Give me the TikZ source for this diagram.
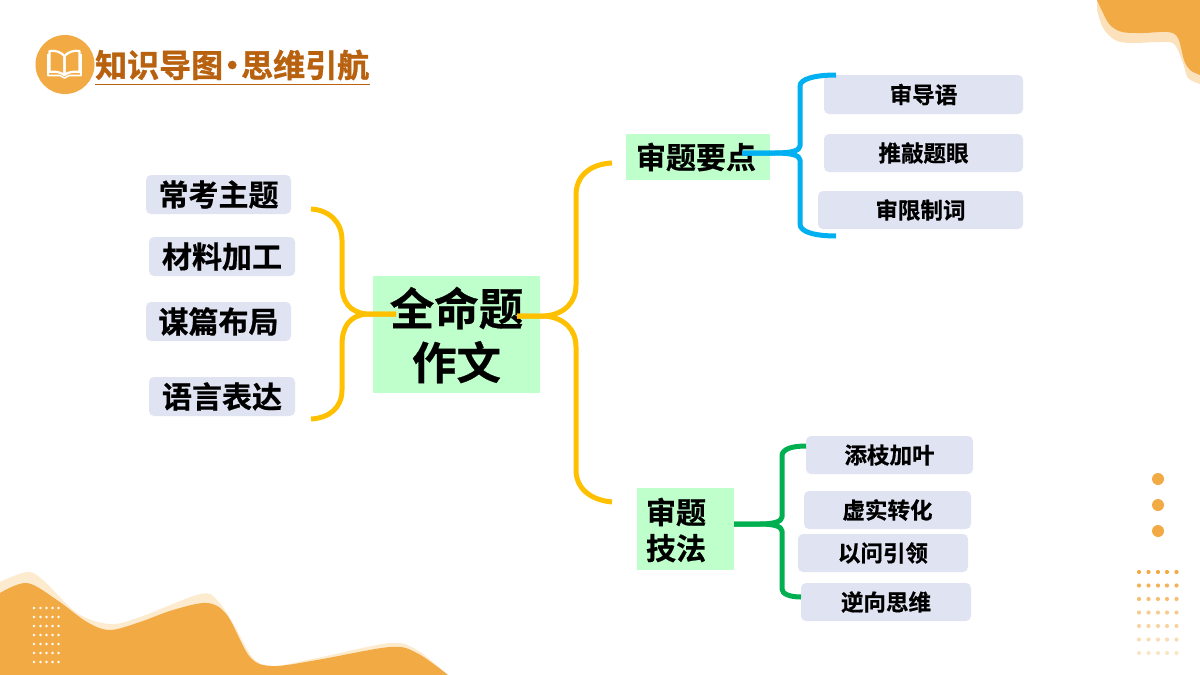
\documentclass[tikz,border=0pt]{standalone}
\usepackage{fontspec}
\setmainfont{Noto Sans CJK SC}[BoldFont={Noto Sans CJK SC Bold}]
\newfontfamily\cjkb[FakeBold=0.6]{Noto Sans CJK SC Bold}
\newfontfamily\cjkt[FakeBold=1.2]{Noto Sans CJK SC Bold}
\definecolor{wave}{HTML}{F2AA45}
\definecolor{wavelt}{HTML}{FDEBD0}
\definecolor{wavemid}{HTML}{FCE2BC}
\definecolor{boxlav}{HTML}{E0E3F1}
\definecolor{boxgrn}{HTML}{BFFFCB}
\definecolor{yel}{HTML}{FFC000}
\definecolor{blu}{HTML}{00B0F0}
\definecolor{grn}{HTML}{00B050}
\definecolor{titlec}{HTML}{B8610F}
\tikzset{
  x=1pt,y=-1pt,
  lav/.style={fill=boxlav,rounded corners=5pt,inner sep=0pt,font=\cjkb\fontsize{22.5}{26}\selectfont},
  lavbig/.style={lav,font=\cjkb\fontsize{30}{34}\selectfont},
  grnbox/.style={fill=boxgrn,inner sep=0pt},
  lab/.style={inner sep=0pt,text=black},
  brace/.style={line width=#1,line cap=butt,line join=round},
}
\begin{document}
\begin{tikzpicture}
\useasboundingbox (0,0) rectangle (1200,675);
% decoration
\fill[wavelt] plot[smooth,tension=0.55] coordinates {(0,582) (27,572) (43,580) (77,613) (110,624) (140,617) (200,594) (217,600) (233,623) (253,658) (273,666) (317,658) (390,643) (417,650) (448,675)} -- (0,675) -- cycle;
\fill[wave] plot[smooth,tension=0.55] coordinates {(0,593) (27,583) (57,600) (87,622) (110,630) (140,622) (173,610) (207,603) (227,615) (250,657) (273,666) (317,660) (390,647) (417,653) (448,675)} -- (0,675) -- cycle;
\foreach \yy in {608,617,626,635,644,653,662}
  \foreach \xx in {34,40.5,46.5,52.5,58.5}
    \fill[white] (\xx,\yy) circle (1.4);
\fill[wavemid] plot[smooth,tension=0.55] coordinates {(1097,10) (1103,28) (1115,40) (1130,43) (1160,42) (1174,44) (1183,63) (1188,78) (1200,84)} -- (1200,0) -- (1097,0) -- cycle;
\fill[wave] plot[smooth,tension=0.55] coordinates {(1097,0) (1103,13) (1110,25) (1122,32) (1143,33) (1168,32) (1178,38) (1184,60) (1190,70) (1200,75)} -- (1200,0) -- cycle;
\foreach \yy in {479,505,531} \fill[wave] (1158,\yy) circle (6);
\foreach \yy/\op in {572/1,585.5/.9,599/.75,612.5/.6,626/.5,639.5/.4,653/.3}
  \foreach \xx in {1139,1148.5,1158,1167,1176.5}
    \fill[wave,opacity=\op] (\xx,\yy) circle (2.1);
% title
\fill[wave] (65,64.5) circle (29.5);
\draw[white,line width=2.2pt,line join=round] (49.5,51) .. controls (55,50) and (61,52) .. (64.5,56) -- (64.5,75) .. controls (60,72) and (55,71) .. (49.5,72) -- cycle;
\draw[white,line width=2.2pt,line join=round] (79.5,51) .. controls (74,50) and (68,52) .. (64.5,56) -- (64.5,75) .. controls (68,72) and (74,71) .. (79.5,72) -- cycle;
\draw[white,line width=1.6pt,line join=round] (48,54) -- (48,75.5) -- (60,75.5) -- (64.5,78) -- (69,75.5) -- (81,75.5) -- (81,54);
\node[lab,text=titlec,font=\cjkt\fontsize{32}{36}\selectfont,anchor=west] (title) at (95,65) {知识导图\hspace{-7pt}·\hspace{-7pt}思维引航};
\draw[titlec,line width=1.5pt] (title.west |- 0,84.5) -- (370,84.5);
% nodes
\node[lavbig,minimum width=145pt,minimum height=39pt] (n1) at (218.5,194.5) {常考主题};
\node[lavbig,minimum width=146pt,minimum height=39pt] (n2) at (222,256.5) {材料加工};
\node[lavbig,minimum width=145pt,minimum height=39pt] (n3) at (218.5,321.5) {谋篇布局};
\node[lavbig,minimum width=146pt,minimum height=39pt] (n4) at (222,396.5) {语言表达};
\node[grnbox,minimum width=167pt,minimum height=117pt] (main) at (456.5,334.5) {};
\node[lab,font=\cjkb\fontsize{44.5}{54}\selectfont,align=center] (maintext) at (456.5,335) {全命题\\作文};
\node[grnbox,minimum width=144pt,minimum height=46pt,font=\cjkb\fontsize{30}{34}\selectfont] (pts) at (698,157) {\hspace*{-4pt}审题要点};
\node[grnbox,minimum width=97pt,minimum height=82pt] (tech) at (685.5,529) {};
\node[lab,font=\cjkb\fontsize{30}{36}\selectfont,align=left] (techtext) at (676,530) {审题\\技法};
\node[lav,minimum width=199pt,minimum height=39pt] (a1) at (923.5,94.5) {审导语};
\node[lav,minimum width=199pt,minimum height=38pt] (a2) at (923.5,153) {推敲题眼};
\node[lav,minimum width=205pt,minimum height=38pt] (a3) at (920.5,210) {审限制词};
\node[lav,minimum width=167pt,minimum height=38pt] (b1) at (889.5,455) {添枝加叶};
\node[lav,minimum width=167pt,minimum height=38pt] (b2) at (887.5,510) {虚实转化};
\node[lav,minimum width=170pt,minimum height=38pt] (b3) at (883,553) {以问引领};
\node[lav,minimum width=170pt,minimum height=38pt] (b4) at (886,602) {逆向思维};
% connector coordinates
\coordinate (LC) at (396,314);
\coordinate (LT) at (311,209);
\coordinate (LB) at (311,419);
\coordinate (RC) at (517,316);
\coordinate (RT) at (612,163);
\coordinate (RB) at (612,502);
\coordinate (BC) at (742,153);
\coordinate (BT) at (836,75);
\coordinate (BB) at (836,236);
\coordinate (GT) at (806,446);
\coordinate (GB) at (801,597);
% yellow
\draw[yel,brace=5pt] (LC) -- (366,314) .. controls (350,312) and (342,302) .. (342,285) -- (342,240) .. controls (342,222) and (329,210) .. (LT);
\draw[yel,brace=5pt] (LC) -- (366,314) .. controls (350,316) and (342,326) .. (342,345) -- (342,390) .. controls (342,408) and (329,418) .. (LB);
\draw[yel,brace=5pt] (RC) -- (545,316) .. controls (565,314) and (576,302) .. (576,285) -- (576,195) .. controls (576,176) and (590,164) .. (RT);
\draw[yel,brace=5pt] (RC) -- (545,316) .. controls (565,318) and (576,330) .. (576,347) -- (576,470) .. controls (576,488) and (590,500) .. (RB);
% blue
\draw[blu,brace=5pt] (BC) -- (775,153) .. controls (790,153) and (800,151) .. (800,146) -- (800,86) .. controls (800,79) and (815,75) .. (BT);
\draw[blu,brace=5pt] (BC) -- (775,153) .. controls (790,153) and (800,155) .. (800,160) -- (800,224) .. controls (800,232) and (815,236) .. (BB);
% green
\draw[grn,brace=5pt] (tech.east |- 0,524) -- (760,524) .. controls (772,524) and (782,522) .. (782,517) -- (782,456) .. controls (782,449) and (792,446) .. (GT);
\draw[grn,brace=5pt] (tech.east |- 0,524) -- (760,524) .. controls (772,524) and (782,526) .. (782,531) -- (782,589) .. controls (782,594) and (790,597) .. (GB);
\end{tikzpicture}
\end{document}
